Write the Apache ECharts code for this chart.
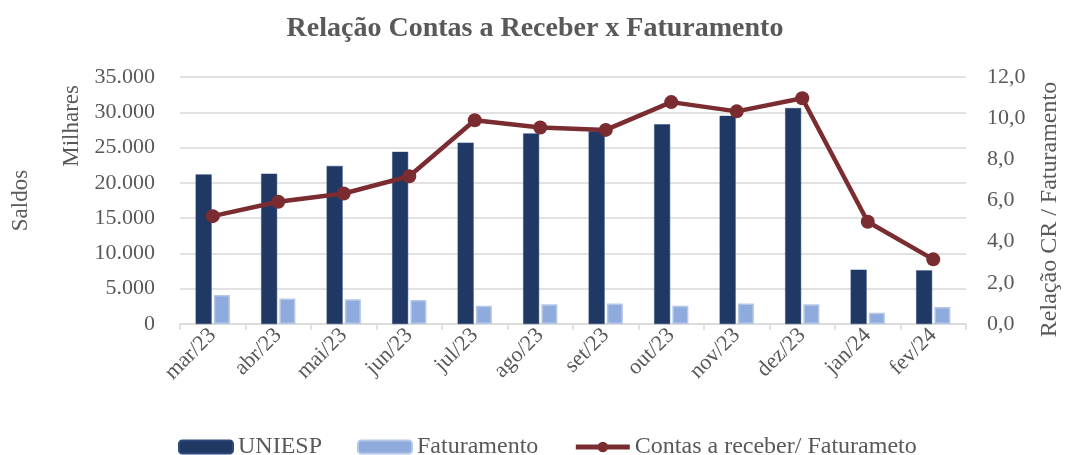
<!DOCTYPE html>
<html>
<head>
<meta charset="utf-8">
<script src="https://cdn.jsdelivr.net/npm/echarts@6/dist/echarts.min.js"></script>
<style>
  html, body { margin: 0; padding: 0; background: #fff; }
  #chart { width: 1070px; height: 455px; }
</style>
</head>
<body>
<div id="chart"></div>
<script>
// meses
const categorias = ['mar/23', 'abr/23', 'mai/23', 'jun/23', 'jul/23', 'ago/23', 'set/23', 'out/23', 'nov/23', 'dez/23', 'jan/24', 'fev/24']
// saldos em milhares
const uniesp = [21200, 21300, 22400, 24400, 25700, 27000, 27300, 28300, 29500, 30600, 7700, 7600]
const faturamento = [4100, 3600, 3500, 3400, 2600, 2800, 2900, 2600, 2900, 2800, 1600, 2400]
// relação CR / faturamento
const relacao = [5.24, 5.94, 6.34, 7.18, 9.9, 9.55, 9.43, 10.78, 10.33, 10.97, 4.97, 3.14]

const fonte = 'Liberation Serif'
const cinza = '#595959'
const vinho = '#7b2c30'

const myChart = echarts.init(document.getElementById('chart'))

const fmtMil = v => String(v).replace(/\B(?=(\d{3})+(?!\d))/g, '.')

myChart.setOption({
  animation: false,
  textStyle: { fontFamily: fonte },
  title: {
    text: 'Relação Contas a Receber x Faturamento',
    left: 'center',
    top: 10,
    textStyle: { fontFamily: fonte, fontSize: 28, fontWeight: 'bold', color: cinza }
  },
  legend: {
    top: 430,
    left: 173,
    itemWidth: 54,
    itemHeight: 13,
    itemGap: 35,
    textStyle: { fontFamily: fonte, fontSize: 24, color: cinza },
    data: [
      'UNIESP',
      'Faturamento',
      {
        name: 'Contas a receber/ Faturameto',
        lineStyle: { width: 5, color: vinho },
        itemStyle: { color: vinho }
      }
    ]
  },
  grid: { left: 180, right: 97, top: 77, bottom: 131 },
  graphic: [
    {
      type: 'text',
      left: 60,
      top: 85,
      rotation: Math.PI / 2,
      style: { text: 'Milhares', fontFamily: fonte, fontSize: 23, fill: cinza }
    }
  ],
  xAxis: {
    type: 'category',
    data: categorias,
    axisLine: { lineStyle: { color: '#d9d9d9', width: 1.5 } },
    axisTick: { show: true, length: 6, lineStyle: { color: '#d9d9d9', width: 1.5 } },
    axisLabel: { rotate: 45, fontFamily: fonte, fontSize: 22, color: cinza, margin: 8 }
  },
  yAxis: [
    {
      type: 'value',
      min: 0,
      max: 35000,
      interval: 5000,
      name: 'Saldos',
      nameLocation: 'middle',
      nameGap: 148,
      nameTextStyle: { fontFamily: fonte, fontSize: 23, color: cinza },
      axisLabel: { fontFamily: fonte, fontSize: 22, color: cinza, margin: 25, formatter: fmtMil },
      splitLine: { lineStyle: { color: '#d9d9d9', width: 1.5 } },
      axisLine: { show: false },
      axisTick: { show: false }
    },
    {
      type: 'value',
      min: 0,
      max: 12,
      interval: 2,
      name: 'Relação CR / Faturamento',
      nameLocation: 'middle',
      nameGap: 72,
      nameRotate: 90,
      nameTextStyle: { fontFamily: fonte, fontSize: 24, color: cinza, padding: [0, 18, 0, 0] },
      axisLabel: { fontFamily: fonte, fontSize: 22, color: cinza, margin: 21, formatter: v => v.toFixed(1).replace('.', ',') },
      splitLine: { show: false },
      axisLine: { show: false },
      axisTick: { show: false }
    }
  ],
  series: [
    {
      name: 'UNIESP',
      type: 'bar',
      data: uniesp,
      barWidth: 16,
      barGap: '14%',
      itemStyle: { color: '#1f3864', borderColor: '#2f4a7a', borderWidth: 0.5 }
    },
    {
      name: 'Faturamento',
      type: 'bar',
      data: faturamento,
      barWidth: 16,
      itemStyle: { color: '#8faadc', borderColor: '#b4c7e7', borderWidth: 1.5 }
    },
    {
      name: 'Contas a receber/ Faturameto',
      type: 'line',
      yAxisIndex: 1,
      data: relacao,
      symbol: 'circle',
      symbolSize: 14,
      itemStyle: { color: vinho },
      lineStyle: { color: vinho, width: 4.5 }
    }
  ]
})
</script>
</body>
</html>
